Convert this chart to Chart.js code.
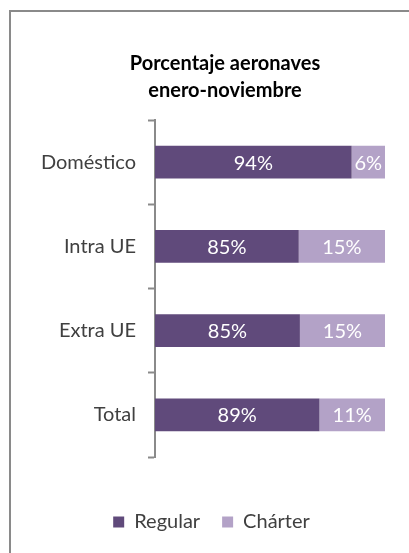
<!DOCTYPE html>
<html>
<head>
<meta charset="utf-8">
<script src="https://cdn.jsdelivr.net/npm/chart.js@4.4.1/dist/chart.umd.min.js"></script>
<style>
  html, body { margin: 0; padding: 0; background: #ffffff; }
  #wrap { position: relative; width: 409px; height: 553px; overflow: hidden; }
  #frame { position: absolute; left: 9px; top: 10px; width: 500px; height: 600px;
           border-left: 2px solid #8a8a8a; border-top: 2px solid #8a8a8a; }
  canvas { position: absolute; left: 0; top: 0; }
</style>
</head>
<body>
<div id="wrap">
  <div id="frame"></div>
  <canvas id="c" width="409" height="553"></canvas>
</div>
<script>
const categories = ['Doméstico', 'Intra UE', 'Extra UE', 'Total'];
const regular = [94.2, 85.0, 85.2, 88.6];
const charter = [5.8, 15.0, 14.8, 11.4];
const titleLines = ['Porcentaje aeronaves', 'enero-noviembre'];
const seriesNames = ['Regular', 'Chárter'];

const FONT = 'Lato, "Open Sans", sans-serif';
const PAD_L = 38;

const barLabels = {
  id: 'barLabels',
  afterLayout(chart) {
    // shift the title block slightly to the right, as in the reference
    if (chart.titleBlock) { chart.titleBlock.left = 65; chart.titleBlock.right = 385; }
  },
  afterDatasetsDraw(chart) {
    const ctx = chart.ctx;
    const area = chart.chartArea;
    ctx.save();
    ctx.font = '20px ' + FONT;
    ctx.fillStyle = '#ffffff';
    ctx.textAlign = 'center';
    ctx.textBaseline = 'middle';
    chart.data.datasets.forEach((ds, di) => {
      const meta = chart.getDatasetMeta(di);
      meta.data.forEach((el, i) => {
        const p = el.getProps(['x', 'y', 'base'], true);
        const l = Math.max(Math.min(p.x, p.base), area.left);
        const r = Math.min(Math.max(p.x, p.base), area.right);
        ctx.fillText(Math.round(ds.data[i]) + '%', (l + r) / 2, p.y + 1);
      });
    });
    ctx.restore();
  }
};

new Chart(document.getElementById('c'), {
  type: 'bar',
  data: {
    labels: categories,
    datasets: [
      { label: seriesNames[0], data: regular, backgroundColor: '#604a7b', borderWidth: 0 },
      { label: seriesNames[1], data: charter, backgroundColor: '#b3a2c7', borderWidth: 0 }
    ]
  },
  options: {
    indexAxis: 'y',
    responsive: false,
    animation: false,
    devicePixelRatio: 1,
    layout: { padding: { left: PAD_L, right: 24, top: 0, bottom: 11 } },
    datasets: { bar: { barPercentage: 0.39, categoryPercentage: 1.0 } },
    scales: {
      x: {
        stacked: true, min: 60, max: 100,
        display: true,
        grid: { display: false },
        border: { display: false },
        ticks: { display: false },
        afterFit(s) { s.height = 33; }
      },
      y: {
        stacked: true,
        offset: true,
        grid: { offset: true, drawOnChartArea: false, drawTicks: true, tickLength: 7, tickColor: '#8a8a8a', tickWidth: 2 },
        border: { display: true, color: '#8a8a8a', width: 2 },
        ticks: { color: '#404040', font: { family: FONT, size: 20 }, padding: 12 },
        afterFit(s) { s.width = 155 - PAD_L; }
      }
    },
    plugins: {
      title: {
        display: true,
        text: titleLines,
        color: '#000000',
        font: { family: FONT, size: 20, weight: 'bold', lineHeight: 1.35 },
        padding: { top: 50, bottom: 16 }
      },
      legend: {
        position: 'bottom',
        labels: { color: '#404040', font: { family: FONT, size: 20 }, boxWidth: 11, boxHeight: 11, padding: 22 }
      },
      tooltip: { enabled: false }
    }
  },
  plugins: [barLabels]
});
</script>
</body>
</html>
